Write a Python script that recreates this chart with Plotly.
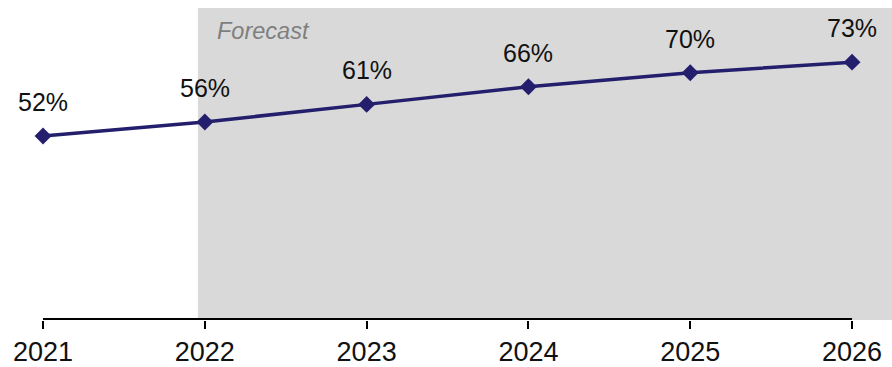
import plotly.graph_objects as go

years = ["2021", "2022", "2023", "2024", "2025", "2026"]
values = [52, 56, 61, 66, 70, 73]
labels = ["52%", "56%", "61%", "66%", "70%", "73%"]
forecast_label = "Forecast"

line_color = "#241f6d"
font_family = "Liberation Sans, Arial, sans-serif"

idx = list(range(len(years)))

fig = go.Figure()
fig.add_trace(go.Scatter(
    x=idx, y=values, mode="lines+markers",
    line=dict(color=line_color, width=3.5),
    marker=dict(symbol="diamond", size=13, color=line_color),
    hoverinfo="skip", showlegend=False,
))

# forecast shaded region
fig.add_shape(type="rect", xref="x", yref="paper",
              x0=0.957, x1=5.3, y0=0, y1=1,
              fillcolor="#d9d9d9", line=dict(width=0), layer="below")
# axis line spanning first to last category
fig.add_shape(type="line", xref="x", yref="y", x0=0, x1=5, y0=0, y1=0,
              line=dict(color="#000000", width=2), layer="above")

for i, v, t in zip(idx, values, labels):
    fig.add_annotation(x=i, y=v, text=t, showarrow=False, yshift=34,
                       font=dict(size=25, color="#111111", family=font_family))

fig.add_annotation(x=1.06, xref="x", y=0.975, yref="paper",
                   text="<i>" + forecast_label + "</i>",
                   showarrow=False, xanchor="left", yanchor="top",
                   font=dict(size=23.5, color="#7f7f7f", family=font_family))

fig.update_layout(
    width=892, height=367,
    margin=dict(l=0, r=0, t=8, b=47),
    paper_bgcolor="white", plot_bgcolor="white",
    xaxis=dict(range=[-0.266, 5.247], tickmode="array", tickvals=idx, ticktext=years,
               showgrid=False, zeroline=False, showline=False,
               ticks="outside", ticklen=8, tickwidth=2, tickcolor="#000000",
               tickfont=dict(size=27, color="#111111", family=font_family)),
    yaxis=dict(range=[-0.3, 88.4], visible=False, showgrid=False, zeroline=False),
)

fig.write_html("out.html")
